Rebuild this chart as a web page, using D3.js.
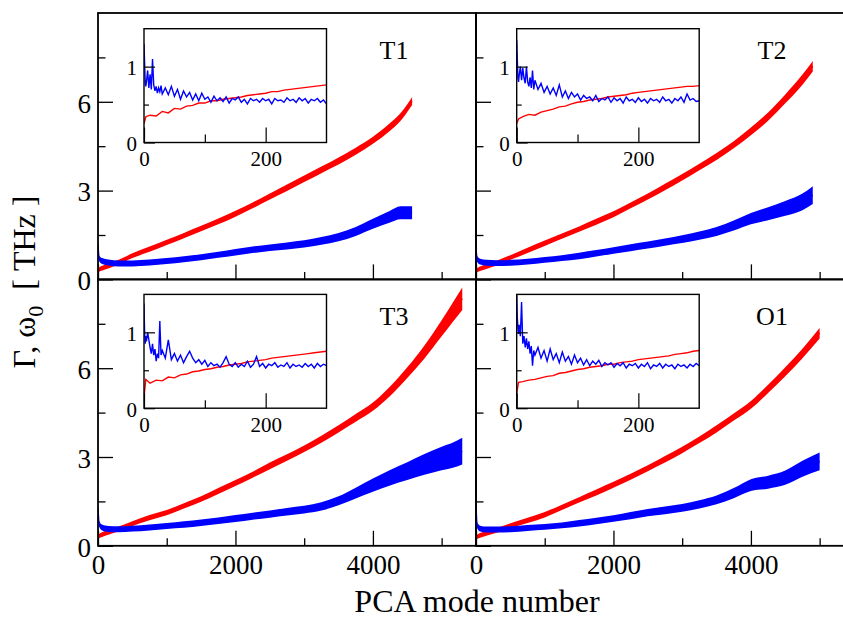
<!DOCTYPE html>
<html>
<head>
<meta charset="utf-8">
<script src="https://cdn.jsdelivr.net/npm/d3@7"></script>
<style>
  body { margin: 0; background: #fff; }
  text { font-family: "Liberation Serif", "Times New Roman", serif; fill: #000; }
</style>
</head>
<body>
<script>
// main panels: mode number, centre of the band and its half width (THz)
const t1Modes = [0, 15, 60, 150, 300, 500, 750, 1000, 1250, 1500, 1750, 2000, 2250, 2500, 2750, 3000, 3250, 3500, 3750, 4000, 4250, 4400, 4570];
const t1Red = [0.30, 0.33, 0.38, 0.45, 0.58, 0.80, 1.02, 1.25, 1.48, 1.72, 1.96, 2.22, 2.50, 2.80, 3.10, 3.40, 3.70, 4.00, 4.33, 4.70, 5.15, 5.48, 6.02];
const t1RedSpread = [0.06, 0.07, 0.08, 0.08, 0.08, 0.08, 0.09, 0.09, 0.09, 0.09, 0.10, 0.10, 0.10, 0.10, 0.11, 0.11, 0.11, 0.12, 0.12, 0.12, 0.13, 0.13, 0.13];
const t1Blue = [1.20, 0.72, 0.62, 0.57, 0.54, 0.54, 0.57, 0.62, 0.68, 0.75, 0.83, 0.92, 1.00, 1.07, 1.13, 1.20, 1.30, 1.43, 1.62, 1.88, 2.12, 2.25, 2.25];
const t1BlueSpread = [0.02, 0.10, 0.10, 0.10, 0.10, 0.10, 0.10, 0.10, 0.10, 0.10, 0.10, 0.11, 0.11, 0.11, 0.12, 0.12, 0.13, 0.14, 0.15, 0.17, 0.20, 0.22, 0.22];

const t2Modes = [0, 15, 60, 150, 300, 500, 750, 1000, 1250, 1500, 1750, 2000, 2250, 2500, 2750, 3000, 3250, 3500, 3750, 4000, 4250, 4500, 4750, 4900];
const t2Red = [0.28, 0.31, 0.36, 0.43, 0.55, 0.74, 0.98, 1.22, 1.46, 1.70, 1.95, 2.20, 2.50, 2.80, 3.12, 3.45, 3.80, 4.15, 4.55, 5.00, 5.50, 6.10, 6.75, 7.20];
const t2RedSpread = [0.06, 0.07, 0.08, 0.08, 0.08, 0.08, 0.09, 0.09, 0.09, 0.09, 0.10, 0.10, 0.10, 0.10, 0.11, 0.11, 0.11, 0.12, 0.12, 0.13, 0.14, 0.15, 0.17, 0.18];
const t2Blue = [1.05, 0.70, 0.60, 0.56, 0.55, 0.56, 0.60, 0.66, 0.72, 0.79, 0.88, 0.98, 1.07, 1.16, 1.26, 1.36, 1.48, 1.62, 1.82, 2.05, 2.22, 2.40, 2.62, 2.85];
const t2BlueSpread = [0.02, 0.10, 0.10, 0.10, 0.10, 0.10, 0.10, 0.10, 0.10, 0.11, 0.11, 0.11, 0.12, 0.12, 0.12, 0.13, 0.14, 0.15, 0.17, 0.19, 0.22, 0.25, 0.28, 0.30];

const t3Modes = [0, 15, 60, 150, 300, 500, 750, 1000, 1250, 1500, 1750, 2000, 2250, 2500, 2750, 3000, 3250, 3500, 3750, 4000, 4250, 4500, 4750, 5000, 5150, 5300];
const t3Red = [0.30, 0.33, 0.38, 0.45, 0.57, 0.75, 0.95, 1.12, 1.35, 1.58, 1.85, 2.12, 2.40, 2.70, 2.98, 3.28, 3.60, 3.95, 4.32, 4.70, 5.22, 5.85, 6.55, 7.35, 7.85, 8.35];
const t3RedSpread = [0.06, 0.07, 0.08, 0.08, 0.08, 0.08, 0.09, 0.09, 0.09, 0.09, 0.10, 0.10, 0.10, 0.11, 0.11, 0.11, 0.12, 0.12, 0.13, 0.14, 0.16, 0.18, 0.22, 0.27, 0.32, 0.38];
const t3Blue = [1.30, 0.75, 0.62, 0.57, 0.56, 0.58, 0.62, 0.67, 0.72, 0.78, 0.85, 0.92, 1.00, 1.07, 1.15, 1.22, 1.33, 1.52, 1.78, 2.05, 2.30, 2.52, 2.75, 2.95, 3.05, 3.20];
const t3BlueSpread = [0.02, 0.10, 0.10, 0.10, 0.10, 0.10, 0.10, 0.10, 0.11, 0.11, 0.11, 0.12, 0.12, 0.12, 0.13, 0.13, 0.14, 0.15, 0.18, 0.22, 0.26, 0.30, 0.35, 0.40, 0.42, 0.45];

const o1Modes = [0, 15, 60, 150, 300, 500, 750, 1000, 1250, 1500, 1750, 2000, 2250, 2500, 2750, 3000, 3250, 3500, 3750, 4000, 4250, 4500, 4750, 5000];
const o1Red = [0.28, 0.30, 0.35, 0.42, 0.52, 0.68, 0.86, 1.05, 1.30, 1.55, 1.80, 2.06, 2.33, 2.62, 2.92, 3.24, 3.58, 3.95, 4.35, 4.76, 5.30, 5.88, 6.50, 7.18];
const o1RedSpread = [0.06, 0.07, 0.08, 0.08, 0.08, 0.08, 0.09, 0.09, 0.09, 0.09, 0.10, 0.10, 0.10, 0.10, 0.11, 0.11, 0.11, 0.12, 0.12, 0.13, 0.14, 0.15, 0.16, 0.18];
const o1Blue = [1.35, 0.70, 0.58, 0.55, 0.55, 0.56, 0.60, 0.64, 0.69, 0.76, 0.84, 0.92, 1.02, 1.12, 1.20, 1.28, 1.40, 1.55, 1.78, 2.05, 2.15, 2.30, 2.60, 2.85];
const o1BlueSpread = [0.02, 0.10, 0.10, 0.10, 0.10, 0.10, 0.10, 0.10, 0.10, 0.11, 0.11, 0.11, 0.12, 0.12, 0.13, 0.13, 0.14, 0.15, 0.17, 0.20, 0.22, 0.24, 0.27, 0.30];

// insets: first 300 modes
const insetBlueModes = [0, 1, 2, 3, 4, 6, 8, 10, 12, 14, 16, 18, 20, 22, 24, 26, 28, 30,
  35, 40, 45, 50, 55, 60, 65, 70, 75, 80, 85, 90, 95, 100, 105, 110, 115, 120, 125, 130, 135, 140,
  145, 150, 155, 160, 165, 170, 175, 180, 185, 190, 195, 200, 205, 210, 215, 220, 225, 230, 235, 240,
  245, 250, 255, 260, 265, 270, 275, 280, 285, 290, 295, 300];
const insetRedModes = [0, 3, 10, 20, 30, 40, 50, 60, 70, 80, 90, 100, 110, 120, 130, 140, 150, 160,
  170, 180, 190, 200, 210, 220, 230, 240, 250, 260, 270, 280, 290, 300];

const t1InsetBlue = [1.30, 1.05, 0.78, 0.74, 0.80, 0.95, 0.72, 0.90, 0.70, 1.10, 0.76, 0.68, 0.74, 0.65, 0.72, 0.67, 0.75, 0.64,
  0.72, 0.63, 0.74, 0.61, 0.70, 0.57, 0.68, 0.60, 0.66, 0.56, 0.64, 0.55, 0.65, 0.57, 0.60, 0.53, 0.61, 0.55, 0.59, 0.54,
  0.60, 0.52, 0.58, 0.56, 0.60, 0.53, 0.57, 0.51, 0.58, 0.55, 0.57, 0.53, 0.58, 0.55, 0.57, 0.51, 0.58, 0.55, 0.56, 0.53,
  0.59, 0.55, 0.57, 0.53, 0.59, 0.55, 0.58, 0.52, 0.57, 0.55, 0.58, 0.53, 0.56, 0.51];
const t1InsetRed = [0.25, 0.34, 0.36, 0.35, 0.41, 0.39, 0.45, 0.44, 0.48, 0.49, 0.52, 0.52, 0.55, 0.55, 0.57, 0.58,
  0.59, 0.60, 0.62, 0.63, 0.64, 0.65, 0.67, 0.67, 0.69, 0.70, 0.71, 0.72, 0.73, 0.74, 0.75, 0.76];

const t2InsetBlue = [1.35, 1.10, 0.85, 0.80, 0.88, 1.00, 0.82, 0.98, 0.85, 0.78, 1.00, 0.80, 0.74, 0.86, 0.72, 0.95, 0.70, 0.82,
  0.70, 0.78, 0.66, 0.74, 0.64, 0.72, 0.62, 0.76, 0.60, 0.68, 0.58, 0.66, 0.60, 0.64, 0.56, 0.62, 0.58, 0.60, 0.55, 0.62,
  0.54, 0.58, 0.56, 0.60, 0.53, 0.59, 0.55, 0.58, 0.52, 0.60, 0.55, 0.57, 0.53, 0.59, 0.54, 0.57, 0.52, 0.58, 0.55, 0.57,
  0.53, 0.60, 0.55, 0.57, 0.52, 0.58, 0.55, 0.60, 0.53, 0.64, 0.56, 0.58, 0.54, 0.55];
const t2InsetRed = [0.25, 0.31, 0.34, 0.37, 0.36, 0.40, 0.42, 0.44, 0.47, 0.48, 0.51, 0.53, 0.54, 0.56, 0.57, 0.58,
  0.60, 0.61, 0.62, 0.63, 0.65, 0.66, 0.67, 0.68, 0.69, 0.70, 0.71, 0.72, 0.73, 0.74, 0.74, 0.75];

const t3InsetBlue = [1.38, 1.00, 0.85, 0.95, 0.88, 1.00, 0.90, 0.80, 0.72, 0.85, 0.70, 0.78, 0.62, 0.72, 0.66, 1.15, 0.70, 0.76,
  0.66, 0.90, 0.64, 0.72, 0.62, 0.70, 0.60, 0.68, 0.75, 0.66, 0.60, 0.64, 0.58, 0.63, 0.55, 0.60, 0.56, 0.58, 0.54, 0.60,
  0.68, 0.58, 0.55, 0.60, 0.54, 0.58, 0.55, 0.62, 0.54, 0.58, 0.68, 0.55, 0.59, 0.53, 0.58, 0.56, 0.60, 0.54, 0.57, 0.55,
  0.60, 0.53, 0.58, 0.55, 0.57, 0.54, 0.59, 0.55, 0.58, 0.53, 0.59, 0.55, 0.58, 0.56];
const t3InsetRed = [0.15, 0.38, 0.33, 0.37, 0.36, 0.41, 0.40, 0.44, 0.45, 0.48, 0.49, 0.51, 0.52, 0.54, 0.55, 0.57,
  0.58, 0.59, 0.61, 0.62, 0.63, 0.64, 0.66, 0.67, 0.68, 0.69, 0.70, 0.71, 0.72, 0.73, 0.74, 0.75];

const o1InsetBlue = [1.50, 1.20, 1.05, 0.98, 1.10, 0.95, 1.40, 0.85, 0.95, 0.80, 0.92, 0.78, 0.88, 0.72, 0.82, 0.56, 0.76, 0.70,
  0.80, 0.66, 0.76, 0.62, 0.78, 0.64, 0.72, 0.60, 0.74, 0.62, 0.68, 0.58, 0.70, 0.60, 0.66, 0.57, 0.64, 0.56, 0.62, 0.58,
  0.63, 0.55, 0.60, 0.57, 0.60, 0.54, 0.59, 0.56, 0.60, 0.53, 0.58, 0.56, 0.59, 0.53, 0.58, 0.55, 0.60, 0.52, 0.57, 0.55,
  0.59, 0.53, 0.58, 0.55, 0.57, 0.52, 0.58, 0.55, 0.57, 0.53, 0.58, 0.55, 0.59, 0.56];
const o1InsetRed = [0.20, 0.34, 0.35, 0.37, 0.38, 0.40, 0.42, 0.43, 0.46, 0.47, 0.49, 0.51, 0.52, 0.54, 0.55, 0.56,
  0.58, 0.58, 0.60, 0.61, 0.62, 0.64, 0.65, 0.66, 0.67, 0.68, 0.69, 0.71, 0.72, 0.73, 0.75, 0.76];

const xMajor = [0, 2000, 4000], xMinor = [1000, 3000, 5000];
const yMajor = [0, 3, 6], yMinor = [1.5, 4.5, 7.5];
const insetXMajor = [0, 200], insetXMinor = [100];
const insetYMajor = [0, 1], insetYMinor = [0.5];

const RED = '#ff0000', BLUE = '#0000ff';
const W = 843, H = 618;
const pw = 378, ph = 266.4;

const panels = [
  { name: 'T1', x0: 98, y0: 13, inset: [144, 28.7], modes: t1Modes, red: t1Red, redS: t1RedSpread, blue: t1Blue, blueS: t1BlueSpread, iRed: t1InsetRed, iBlue: t1InsetBlue, yLab: true, xLab: false },
  { name: 'T2', x0: 476, y0: 13, inset: [516.7, 28.7], modes: t2Modes, red: t2Red, redS: t2RedSpread, blue: t2Blue, blueS: t2BlueSpread, iRed: t2InsetRed, iBlue: t2InsetBlue, yLab: false, xLab: false },
  { name: 'T3', x0: 98, y0: 279.4, inset: [144, 294.4], modes: t3Modes, red: t3Red, redS: t3RedSpread, blue: t3Blue, blueS: t3BlueSpread, iRed: t3InsetRed, iBlue: t3InsetBlue, yLab: true, xLab: true },
  { name: 'O1', x0: 476, y0: 279.4, inset: [516.7, 294.4], modes: o1Modes, red: o1Red, redS: o1RedSpread, blue: o1Blue, blueS: o1BlueSpread, iRed: o1InsetRed, iBlue: o1InsetBlue, yLab: false, xLab: true }
];
const insetW = 182.5, insetH = 113.8;

const svg = d3.select('body').append('svg')
  .attr('width', W).attr('height', H);

function styleAxis(g, size, width) {
  g.select('.domain').remove();
  g.selectAll('.tick line').attr('stroke', '#000').attr('stroke-width', width);
  g.selectAll('.tick text').attr('font-size', size).attr('fill', '#000')
    .attr('font-family', '"Liberation Serif", "Times New Roman", serif');
}

panels.forEach(function (p, pi) {
  const x = d3.scaleLinear().domain([0, 5500]).range([p.x0, p.x0 + pw]);
  const y = d3.scaleLinear().domain([0, 9]).range([p.y0 + ph, p.y0]);

  svg.append('clipPath').attr('id', 'clip' + pi)
    .append('rect').attr('x', p.x0).attr('y', p.y0).attr('width', pw).attr('height', ph);

  const g = svg.append('g').attr('clip-path', 'url(#clip' + pi + ')');
  const idx = d3.range(p.modes.length);

  [[p.red, p.redS, RED], [p.blue, p.blueS, BLUE]].forEach(function (s) {
    const band = d3.area()
      .x(i => x(p.modes[i]))
      .y0(i => y(s[0][i] - s[1][i]))
      .y1(i => y(s[0][i] + s[1][i]))
      .curve(d3.curveMonotoneX);
    g.append('path').attr('d', band(idx)).attr('fill', s[2]);
    g.append('path')
      .attr('d', d3.line().x(i => x(p.modes[i])).y(i => y(s[0][i])).curve(d3.curveMonotoneX)(idx))
      .attr('fill', 'none').attr('stroke', s[2]).attr('stroke-width', 1.5);
  });

  // ticks, pointing inwards
  const bottom = p.y0 + ph;
  const xa = svg.append('g').attr('transform', 'translate(0,' + bottom + ')')
    .call(d3.axisBottom(x).tickValues(xMajor).tickSize(-15).tickPadding(9)
      .tickFormat(p.xLab ? d3.format('d') : ''));
  styleAxis(xa, 27, 1.3);
  const xm = svg.append('g').attr('transform', 'translate(0,' + bottom + ')')
    .call(d3.axisBottom(x).tickValues(xMinor).tickSize(-7.5).tickFormat(''));
  styleAxis(xm, 27, 1.3);

  const ya = svg.append('g').attr('transform', 'translate(' + p.x0 + ',0)')
    .call(d3.axisLeft(y).tickValues(yMajor).tickSize(-15).tickPadding(7)
      .tickFormat(p.yLab ? d3.format('d') : ''));
  styleAxis(ya, 27, 1.3);
  ya.selectAll('.tick text').attr('dy', '0.38em');
  const ym = svg.append('g').attr('transform', 'translate(' + p.x0 + ',0)')
    .call(d3.axisLeft(y).tickValues(yMinor).tickSize(-7.5).tickFormat(''));
  styleAxis(ym, 27, 1.3);

  svg.append('rect').attr('x', p.x0).attr('y', p.y0).attr('width', pw).attr('height', ph)
    .attr('fill', 'none').attr('stroke', '#000').attr('stroke-width', 1.8);

  svg.append('text').attr('x', p.x0 + 296).attr('y', p.y0 + 45.5)
    .attr('text-anchor', 'middle').attr('font-size', 26).text(p.name);

  // inset
  const ix0 = p.inset[0], iy0 = p.inset[1];
  const ix = d3.scaleLinear().domain([0, 300]).range([ix0, ix0 + insetW]);
  const iy = d3.scaleLinear().domain([0, 1.5]).range([iy0 + insetH, iy0]);

  svg.append('rect').attr('x', ix0).attr('y', iy0).attr('width', insetW).attr('height', insetH)
    .attr('fill', '#fff');
  svg.append('clipPath').attr('id', 'iclip' + pi)
    .append('rect').attr('x', ix0).attr('y', iy0).attr('width', insetW).attr('height', insetH);
  const ig = svg.append('g').attr('clip-path', 'url(#iclip' + pi + ')');
  ig.append('path')
    .attr('d', d3.line().x((d, i) => ix(insetRedModes[i])).y(d => iy(d))(p.iRed))
    .attr('fill', 'none').attr('stroke', RED).attr('stroke-width', 1.4);
  ig.append('path')
    .attr('d', d3.line().x((d, i) => ix(insetBlueModes[i])).y(d => iy(d))(p.iBlue))
    .attr('fill', 'none').attr('stroke', BLUE).attr('stroke-width', 1.4);

  const ibottom = iy0 + insetH;
  const ixa = svg.append('g').attr('transform', 'translate(0,' + ibottom + ')')
    .call(d3.axisBottom(ix).tickValues(insetXMajor).tickSize(-15).tickPadding(8.5).tickFormat(d3.format('d')));
  styleAxis(ixa, 21, 1.2);
  const ixm = svg.append('g').attr('transform', 'translate(0,' + ibottom + ')')
    .call(d3.axisBottom(ix).tickValues(insetXMinor).tickSize(-8).tickFormat(''));
  styleAxis(ixm, 21, 1.2);
  const iya = svg.append('g').attr('transform', 'translate(' + ix0 + ',0)')
    .call(d3.axisLeft(iy).tickValues(insetYMajor).tickSize(-11).tickPadding(7).tickFormat(d3.format('d')));
  styleAxis(iya, 21, 1.2);
  iya.selectAll('.tick text').attr('dy', '0.38em');
  const iym = svg.append('g').attr('transform', 'translate(' + ix0 + ',0)')
    .call(d3.axisLeft(iy).tickValues(insetYMinor).tickSize(-5).tickFormat(''));
  styleAxis(iym, 21, 1.2);

  svg.append('rect').attr('x', ix0).attr('y', iy0).attr('width', insetW).attr('height', insetH)
    .attr('fill', 'none').attr('stroke', '#000').attr('stroke-width', 1.4);
});

// axis titles
svg.append('text').attr('x', 477).attr('y', 612)
  .attr('text-anchor', 'middle').attr('font-size', 32).text('PCA mode number');

const yt = svg.append('text').attr('transform', 'translate(35,282) rotate(-90)')
  .attr('text-anchor', 'middle').attr('font-size', 32);
yt.append('tspan').text('\u0393, \u03c9');
yt.append('tspan').attr('font-size', 22).attr('dy', 8).text('0');
yt.append('tspan').attr('dy', -8).text('\u00a0 [ THz ]');
</script>
</body>
</html>
